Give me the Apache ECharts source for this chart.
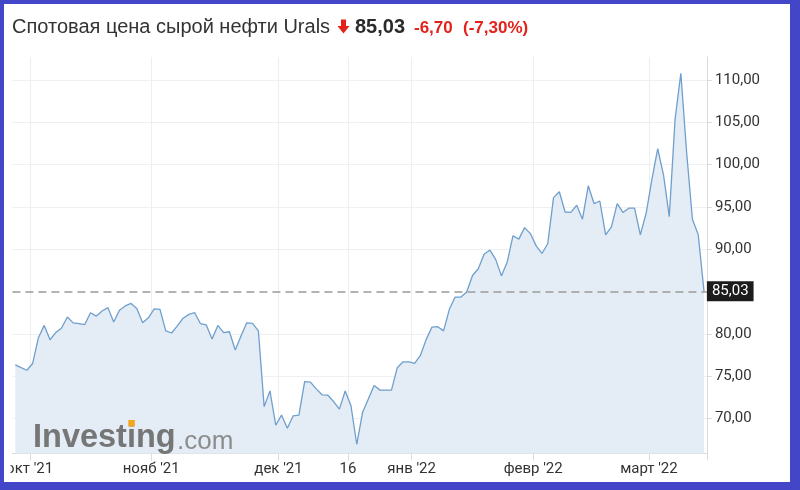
<!DOCTYPE html>
<html><head><meta charset="utf-8">
<script src="https://cdn.jsdelivr.net/npm/echarts@6/dist/echarts.min.js"></script>
<style>
html,body{margin:0;padding:0;background:#4347c7;width:800px;height:490px;overflow:hidden;}
#frame{position:absolute;left:4px;top:4px;width:786px;height:478px;background:#fff;}
#main{position:absolute;left:0;top:0;width:800px;height:490px;}
</style></head><body>
<div id="frame"></div><div id="main"></div>
<script>
// ---- data ----
const titleText = 'Спотовая цена сырой нефти Urals';
const lastPriceText = '85,03';
const changeText = '-6,70';
const changePctText = '(-7,30%)';
const lastPrice = 85.03;

const prices = [
  76.33, 76.0, 75.7, 76.5, 79.55, 81.0, 79.3, 80.15, 80.7, 82.0,
  81.3, 81.2, 81.1, 82.5, 82.1, 82.7, 83.1, 81.4, 82.8, 83.3,
  83.6, 83.0, 81.3, 81.9, 82.95, 82.9, 80.35, 80.1, 80.95, 81.85,
  82.3, 82.5, 81.2, 81.05, 79.4, 81.0, 80.15, 80.25, 78.1, 79.75,
  81.3, 81.25, 80.35, 71.4, 73.25, 69.2, 70.4, 68.85, 70.3, 70.4,
  74.35, 74.3, 73.5, 72.8, 72.75, 72.0, 71.1, 73.25, 71.5, 66.95,
  70.7, 72.3, 73.9, 73.35, 73.35, 73.35, 76.0, 76.7, 76.7, 76.5,
  77.45, 79.35, 80.8, 80.85, 80.35, 82.9, 84.35, 84.35, 84.95, 86.9,
  87.7, 89.4, 89.9, 88.8, 86.85, 88.5, 91.6, 91.2, 92.55, 91.85,
  90.4, 89.5, 90.65, 96.1, 96.8, 94.4, 94.35, 95.2, 93.55, 97.5,
  95.4, 95.7, 91.7, 92.65, 95.4, 94.35, 94.85, 94.85, 91.7, 94.25,
  98.25, 101.9, 98.8, 93.85, 105.35, 110.8, 101.4, 93.55, 91.73, 85.03
];

// trading days (weekdays) starting 28 Sep 2021
const categories = [];
(function(){
  const d = new Date(Date.UTC(2021, 8, 28));
  while (categories.length < prices.length) {
    const wd = d.getUTCDay();
    if (wd !== 0 && wd !== 6) categories.push(d.toISOString().slice(0, 10));
    d.setUTCDate(d.getUTCDate() + 1);
  }
})();

const tickIndex = [3, 24, 46, 58, 69, 90, 110];
const tickLabels = ["окт '21", "нояб '21", "дек '21", "16", "янв '22", "февр '22", "март '22"];
const yTickValues = [70, 75, 80, 90, 95, 100, 105, 110];

// ---- chart ----
const chart = echarts.init(document.getElementById('main'), null, {renderer: 'canvas'});
const isTick = (i) => tickIndex.indexOf(i) >= 0;
const axisFont = 'Roboto';
const lineGrey = '#d9dbde';

chart.setOption({
  animation: false,
  grid: {left: 12.4, right: 93.1, top: 57, bottom: 36.5, containLabel: false},
  xAxis: {
    type: 'category',
    data: categories,
    boundaryGap: true,
    axisLine: {show: true, lineStyle: {color: lineGrey, width: 1}},
    axisTick: {show: true, interval: (i) => isTick(i), length: 7, lineStyle: {color: lineGrey}},
    axisLabel: {
      interval: (i) => isTick(i),
      formatter: (v, i) => { const k = tickIndex.indexOf(i); return k >= 0 ? tickLabels[k] : ''; },
      color: '#333', fontSize: 15, fontFamily: axisFont, margin: 8, padding: [0, 6, 0, 0]
    },
    splitLine: {show: true, interval: (i) => isTick(i), lineStyle: {color: '#eceef2', width: 1}}
  },
  yAxis: {
    type: 'value',
    position: 'right',
    min: 65.86,
    max: 112.72,
    axisLine: {show: true, lineStyle: {color: lineGrey, width: 1}},
    axisTick: {show: true, length: 5, customValues: yTickValues, lineStyle: {color: lineGrey}},
    axisLabel: {
      customValues: yTickValues,
      formatter: (v) => v.toFixed(2).replace('.', ','),
      color: '#333', fontSize: 15, fontFamily: axisFont, margin: 8
    },
    splitLine: {show: true, lineStyle: {color: '#eff0f3', width: 1}}
  },
  series: [{
    type: 'line',
    data: prices,
    symbol: 'none',
    lineStyle: {color: '#6f9fcc', width: 1.3},
    areaStyle: {color: '#e4edf6', opacity: 1, origin: 'start'},
    markLine: {
      silent: true,
      symbol: ['none', 'none'],
      lineStyle: {color: '#9b9b9b', type: [8, 5], width: 1.5},
      label: {
        show: true, position: 'end', distance: 0,
        formatter: () => lastPrice.toFixed(2).replace('.', ','),
        backgroundColor: '#1c1c1c', color: '#fff', padding: [3, 5, 2, 5],
        fontSize: 15, fontFamily: axisFont
      },
      data: [{yAxis: lastPrice}]
    }
  }],
  graphic: [
    {type: 'text', x: 12, y: 27.5, silent: true,
     style: {text: titleText, font: '20px "Liberation Sans", Arial, sans-serif', fill: '#333', verticalAlign: 'middle'}},
    {type: 'polygon', silent: true,
     shape: {points: [[341, 19.5], [346, 19.5], [346, 26], [349.5, 26], [343.5, 33.5], [337.5, 26], [341, 26]]},
     style: {fill: '#e3221b'}},
    {type: 'text', x: 355, y: 27.5, silent: true,
     style: {text: lastPriceText, font: 'bold 20px "Liberation Sans", Arial, sans-serif', fill: '#2b2b2b', verticalAlign: 'middle'}},
    {type: 'text', x: 414, y: 28, silent: true,
     style: {text: changeText, font: 'bold 17px "Liberation Sans", Arial, sans-serif', fill: '#e3221b', verticalAlign: 'middle'}},
    {type: 'text', x: 463, y: 28, silent: true,
     style: {text: changePctText, font: 'bold 17px "Liberation Sans", Arial, sans-serif', fill: '#e3221b', verticalAlign: 'middle'}},
    {type: 'text', x: 33, y: 438, silent: true, z: 10,
     style: {text: 'Investing', font: 'bold 32.5px "Liberation Sans", Arial, sans-serif', fill: 'rgba(112,112,112,0.95)', verticalAlign: 'middle'}},
    {type: 'text', x: 177, y: 442, silent: true, z: 10,
     style: {text: '.com', font: '26px "Liberation Sans", Arial, sans-serif', fill: 'rgba(135,135,135,0.95)', verticalAlign: 'middle'}},
    {type: 'rect', silent: true, z: 11,
     shape: {x: 128.3, y: 420, width: 6.5, height: 6.5},
     style: {fill: '#f2a51f'}},
    {type: 'rect', silent: true, z: 20,
     shape: {x: 4, y: 456, width: 6.5, height: 26},
     style: {fill: '#ffffff'}}
  ]
});
</script>
</body></html>
